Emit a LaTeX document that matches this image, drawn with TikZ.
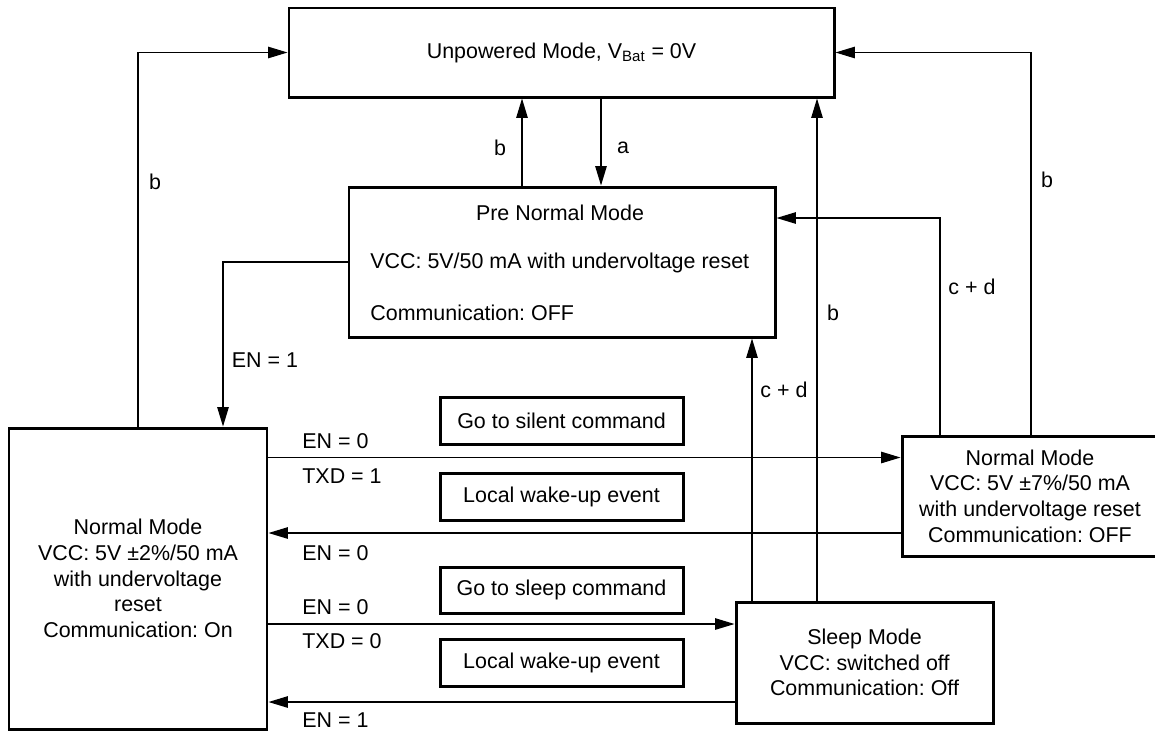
\documentclass[tikz,border=0pt]{standalone}
\usepackage{fontspec}
\setmainfont{Liberation Sans}
\usetikzlibrary{arrows.meta}
\frenchspacing
\begin{document}
\begin{tikzpicture}[x=0.02cm,y=-0.02cm,
  font=\fontsize{12.2}{14.6}\selectfont,
  box/.style={draw, line width=1.7pt, rectangle, inner sep=0pt, anchor=center},
  lbl/.style={inner sep=0pt, anchor=center},
  arr/.style={line width=0.65pt, -{Triangle[length=11pt,width=6.5pt]}},
  ln/.style={line width=0.65pt}]
\useasboundingbox (0,0) rectangle (1155,731);
% boxes
\node[box, minimum width=545*0.02cm, minimum height=89*0.02cm] (U) at (561.5,52.5) {};
\node[lbl] (Ut) at (561.5,52.5) {Unpowered Mode, V\textsubscript{Bat} = 0V};
\node[box, minimum width=426*0.02cm, minimum height=150*0.02cm] (P) at (562,262) {};
\node[lbl] (Pt1) at (560,213) {Pre Normal Mode};
\node[lbl, anchor=west] (Pt2) at (370,263) {VCC: 5V/50 mA with undervoltage reset};
\node[lbl, anchor=west] (Pt3) at (370,313) {Communication: OFF};
\node[box, minimum width=258*0.02cm, minimum height=301*0.02cm, align=center] (L) at (138,578.5)
  {Normal Mode\\VCC: 5V ±2\%/50 mA\\with undervoltage\\reset\\Communication: On};
\node[box, minimum width=256*0.02cm, minimum height=120*0.02cm, align=center] (R) at (1030,496)
  {Normal Mode\\VCC: 5V ±7\%/50 mA\\with undervoltage reset\\Communication: OFF};
\node[box, minimum width=257*0.02cm, minimum height=121*0.02cm, align=center] (S) at (864.5,662.5)
  {Sleep Mode\\VCC: switched off\\Communication: Off};
\node[box, minimum width=243*0.02cm, minimum height=47*0.02cm] (G1) at (561.5,420.5) {Go to silent command};
\node[box, minimum width=243*0.02cm, minimum height=47*0.02cm] (W1) at (561.5,496.5) {Local wake-up event};
\node[box, minimum width=243*0.02cm, minimum height=46*0.02cm] (G2) at (561.5,590) {Go to sleep command};
\node[box, minimum width=243*0.02cm, minimum height=47*0.02cm] (W2) at (561.5,662.5) {Local wake-up event};
% helper coordinates
\coordinate (xb) at (522,0);
\coordinate (xa) at (601,0);
\coordinate (xen) at (223,0);
\coordinate (xcd1) at (940,218);
\coordinate (xbr) at (1031,0);
\coordinate (xcd2) at (752,0);
\coordinate (xb2) at (817,0);
\coordinate (y1) at (0,457.5);
\coordinate (y2) at (0,533);
\coordinate (y3) at (0,624);
\coordinate (y4) at (0,702);
% connectors
\draw[arr] (L.north) |- (U.west);
\draw[arr] (P.west) -| (xen |- L.north);
\draw[arr] (xb |- P.north) -- (xb |- U.south);
\draw[arr] (xa |- U.south) -- (xa |- P.north);
\draw[arr] (xcd1 |- R.north) |- (P.east |- xcd1);
\draw[arr] (xbr |- R.north) |- (U.east);
\draw[arr] (xcd2 |- S.north) -- (xcd2 |- P.south);
\draw[arr] (xb2 |- S.north) -- (xb2 |- U.south);
\draw[arr] (L.east |- y1) -- (R.west |- y1);
\draw[arr] (R.west |- y2) -- (L.east |- y2);
\draw[arr] (L.east |- y3) -- (S.west |- y3);
\draw[arr] (S.west |- y4) -- (L.east |- y4);
% labels
\node[lbl] (lb1) at (500,148) {b};
\node[lbl] (la) at (623,148) {a};
\node[lbl] (lb2) at (155,182) {b};
\node[lbl] (len1) at (265,360) {EN = 1};
\node[lbl] (lb3) at (1047,180) {b};
\node[lbl] (lcd1) at (972,287) {c + d};
\node[lbl] (lb4) at (833,313) {b};
\node[lbl] (lcd2) at (784,390) {c + d};
\node[lbl, anchor=west] (l1) at (302,441) {EN = 0};
\node[lbl, anchor=west] (l2) at (302,476) {TXD = 1};
\node[lbl, anchor=west] (l3) at (302,553) {EN = 0};
\node[lbl, anchor=west] (l4) at (302,607) {EN = 0};
\node[lbl, anchor=west] (l5) at (302,641) {TXD = 0};
\node[lbl, anchor=west] (l6) at (302,720) {EN = 1};
\end{tikzpicture}
\end{document}
